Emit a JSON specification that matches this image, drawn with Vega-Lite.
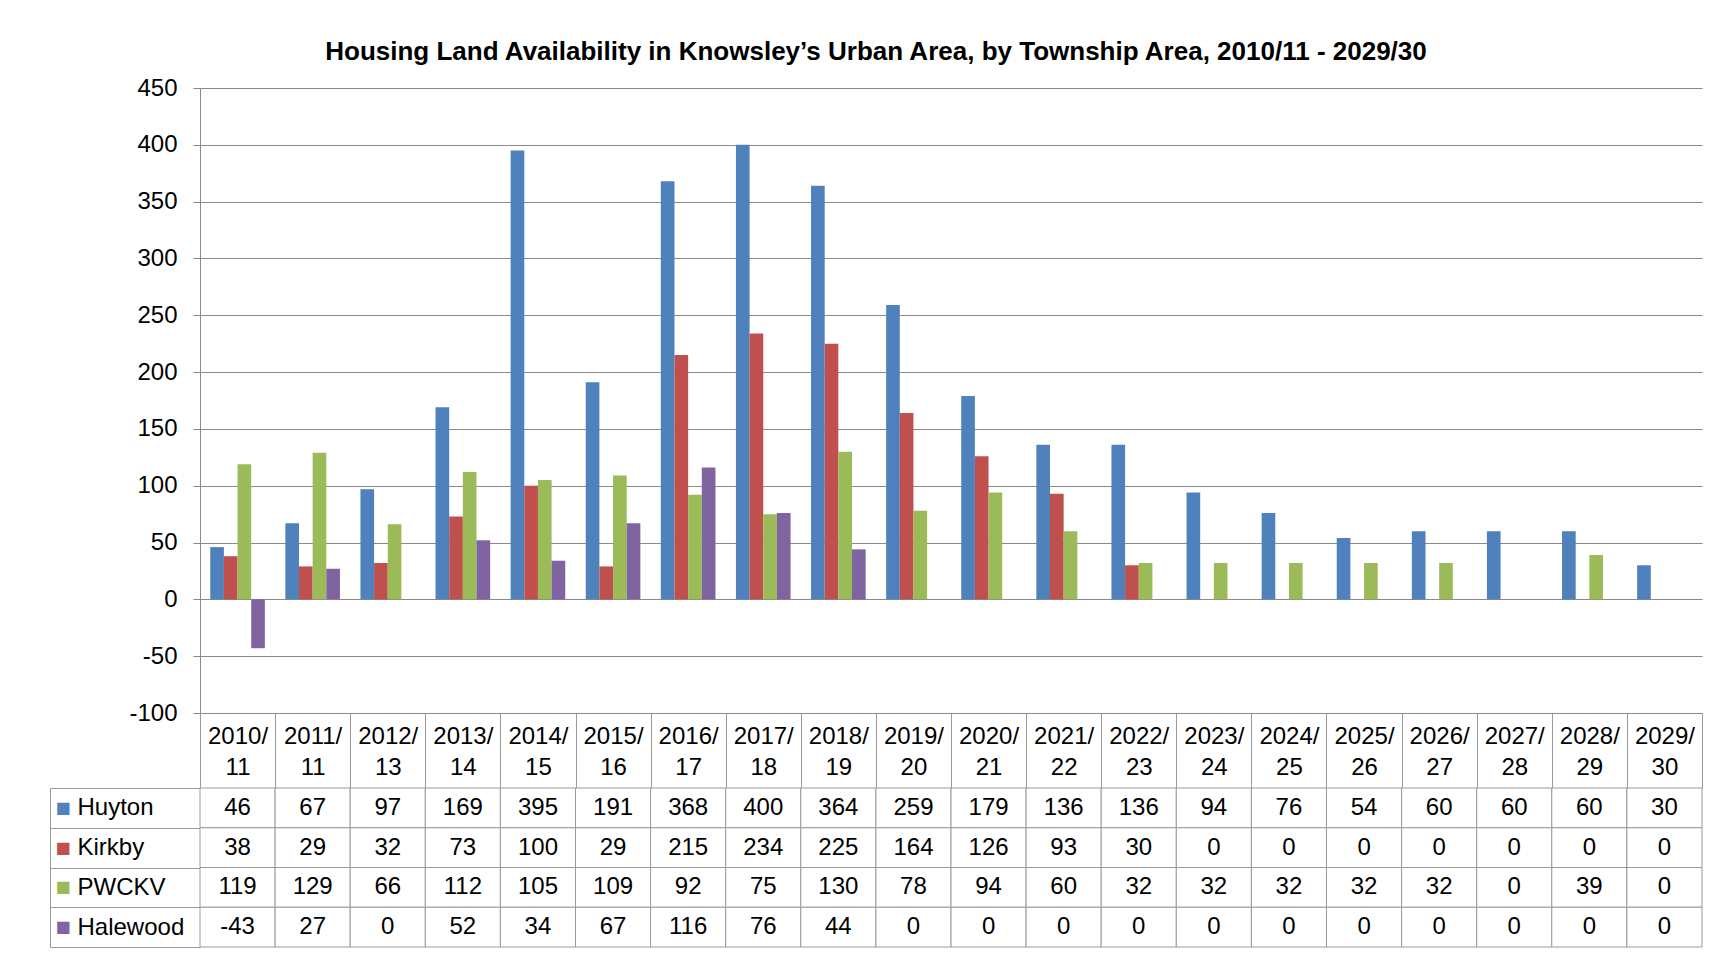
{
  "$schema": "https://vega.github.io/schema/vega-lite/v6.json",
  "padding": {"left": 49, "top": 39, "right": 0, "bottom": 0},
  "background": "white",
  "title": {"text": "Housing Land Availability in Knowsley’s Urban Area, by Township Area, 2010/11 - 2029/30", "fontSize": 26, "font": "Liberation Sans", "fontWeight": "bold", "color": "black", "anchor": "middle", "offset": 11},
  "datasets": {
    "d": [
      {"year": "2010/11", "series": "Huyton", "value": 46},
      {"year": "2011/11", "series": "Huyton", "value": 67},
      {"year": "2012/13", "series": "Huyton", "value": 97},
      {"year": "2013/14", "series": "Huyton", "value": 169},
      {"year": "2014/15", "series": "Huyton", "value": 395},
      {"year": "2015/16", "series": "Huyton", "value": 191},
      {"year": "2016/17", "series": "Huyton", "value": 368},
      {"year": "2017/18", "series": "Huyton", "value": 400},
      {"year": "2018/19", "series": "Huyton", "value": 364},
      {"year": "2019/20", "series": "Huyton", "value": 259},
      {"year": "2020/21", "series": "Huyton", "value": 179},
      {"year": "2021/22", "series": "Huyton", "value": 136},
      {"year": "2022/23", "series": "Huyton", "value": 136},
      {"year": "2023/24", "series": "Huyton", "value": 94},
      {"year": "2024/25", "series": "Huyton", "value": 76},
      {"year": "2025/26", "series": "Huyton", "value": 54},
      {"year": "2026/27", "series": "Huyton", "value": 60},
      {"year": "2027/28", "series": "Huyton", "value": 60},
      {"year": "2028/29", "series": "Huyton", "value": 60},
      {"year": "2029/30", "series": "Huyton", "value": 30},
      {"year": "2010/11", "series": "Kirkby", "value": 38},
      {"year": "2011/11", "series": "Kirkby", "value": 29},
      {"year": "2012/13", "series": "Kirkby", "value": 32},
      {"year": "2013/14", "series": "Kirkby", "value": 73},
      {"year": "2014/15", "series": "Kirkby", "value": 100},
      {"year": "2015/16", "series": "Kirkby", "value": 29},
      {"year": "2016/17", "series": "Kirkby", "value": 215},
      {"year": "2017/18", "series": "Kirkby", "value": 234},
      {"year": "2018/19", "series": "Kirkby", "value": 225},
      {"year": "2019/20", "series": "Kirkby", "value": 164},
      {"year": "2020/21", "series": "Kirkby", "value": 126},
      {"year": "2021/22", "series": "Kirkby", "value": 93},
      {"year": "2022/23", "series": "Kirkby", "value": 30},
      {"year": "2023/24", "series": "Kirkby", "value": 0},
      {"year": "2024/25", "series": "Kirkby", "value": 0},
      {"year": "2025/26", "series": "Kirkby", "value": 0},
      {"year": "2026/27", "series": "Kirkby", "value": 0},
      {"year": "2027/28", "series": "Kirkby", "value": 0},
      {"year": "2028/29", "series": "Kirkby", "value": 0},
      {"year": "2029/30", "series": "Kirkby", "value": 0},
      {"year": "2010/11", "series": "PWCKV", "value": 119},
      {"year": "2011/11", "series": "PWCKV", "value": 129},
      {"year": "2012/13", "series": "PWCKV", "value": 66},
      {"year": "2013/14", "series": "PWCKV", "value": 112},
      {"year": "2014/15", "series": "PWCKV", "value": 105},
      {"year": "2015/16", "series": "PWCKV", "value": 109},
      {"year": "2016/17", "series": "PWCKV", "value": 92},
      {"year": "2017/18", "series": "PWCKV", "value": 75},
      {"year": "2018/19", "series": "PWCKV", "value": 130},
      {"year": "2019/20", "series": "PWCKV", "value": 78},
      {"year": "2020/21", "series": "PWCKV", "value": 94},
      {"year": "2021/22", "series": "PWCKV", "value": 60},
      {"year": "2022/23", "series": "PWCKV", "value": 32},
      {"year": "2023/24", "series": "PWCKV", "value": 32},
      {"year": "2024/25", "series": "PWCKV", "value": 32},
      {"year": "2025/26", "series": "PWCKV", "value": 32},
      {"year": "2026/27", "series": "PWCKV", "value": 32},
      {"year": "2027/28", "series": "PWCKV", "value": 0},
      {"year": "2028/29", "series": "PWCKV", "value": 39},
      {"year": "2029/30", "series": "PWCKV", "value": 0},
      {"year": "2010/11", "series": "Halewood", "value": -43},
      {"year": "2011/11", "series": "Halewood", "value": 27},
      {"year": "2012/13", "series": "Halewood", "value": 0},
      {"year": "2013/14", "series": "Halewood", "value": 52},
      {"year": "2014/15", "series": "Halewood", "value": 34},
      {"year": "2015/16", "series": "Halewood", "value": 67},
      {"year": "2016/17", "series": "Halewood", "value": 116},
      {"year": "2017/18", "series": "Halewood", "value": 76},
      {"year": "2018/19", "series": "Halewood", "value": 44},
      {"year": "2019/20", "series": "Halewood", "value": 0},
      {"year": "2020/21", "series": "Halewood", "value": 0},
      {"year": "2021/22", "series": "Halewood", "value": 0},
      {"year": "2022/23", "series": "Halewood", "value": 0},
      {"year": "2023/24", "series": "Halewood", "value": 0},
      {"year": "2024/25", "series": "Halewood", "value": 0},
      {"year": "2025/26", "series": "Halewood", "value": 0},
      {"year": "2026/27", "series": "Halewood", "value": 0},
      {"year": "2027/28", "series": "Halewood", "value": 0},
      {"year": "2028/29", "series": "Halewood", "value": 0},
      {"year": "2029/30", "series": "Halewood", "value": 0}
    ]
  },
  "bounds": "flush",
  "spacing": 75,
  "vconcat": [
    {
      "width": 1502,
      "height": 625,
      "data": {"name": "d"},
      "mark": {"type": "bar"},
      "encoding": {
        "x": {"field": "year", "type": "nominal", "sort": null, "scale": {"paddingInner": 0.2727, "paddingOuter": 0.1364}, "axis": null},
        "xOffset": {"field": "series", "type": "nominal", "sort": ["Huyton", "Kirkby", "PWCKV", "Halewood"], "scale": {"paddingInner": 0, "paddingOuter": 0}},
        "y": {
          "field": "value", "type": "quantitative",
          "scale": {"domain": [-100, 450], "nice": false, "zero": false},
          "axis": {
            "title": null,
            "values": [-100, -50, 0, 50, 100, 150, 200, 250, 300, 350, 400, 450],
            "labelExpr": "'' + datum.value",
            "grid": true, "gridColor": "#8a8a8a", "gridWidth": 1,
            "domain": true, "domainColor": "#8a8a8a",
            "ticks": true, "tickSize": 7, "tickColor": "#8a8a8a",
            "labelPadding": 16, "labelFontSize": 24, "labelColor": "black", "labelFont": "Liberation Sans"
          }
        },
        "color": {
          "field": "series", "type": "nominal",
          "scale": {"domain": ["Huyton", "Kirkby", "PWCKV", "Halewood"], "range": ["#4F81BD", "#C0504D", "#9BBB59", "#8064A2"]},
          "legend": null
        }
      }
    },
    {
      "width": 1502,
      "height": 159,
      "data": {"name": "d"},
      "layer": [
        {
          "mark": {"type": "rect", "fill": "white", "stroke": "#9a9a9a", "strokeWidth": 1},
          "encoding": {
            "x": {"field": "year", "type": "nominal", "sort": null, "scale": {"paddingInner": 0, "paddingOuter": 0}, "axis": null},
            "y": {
              "field": "series", "type": "nominal", "sort": ["Huyton", "Kirkby", "PWCKV", "Halewood"],
              "scale": {"paddingInner": 0, "paddingOuter": 0},
              "axis": {
                "orient": "left", "offset": 150, "title": null,
                "domain": true, "domainColor": "#9a9a9a",
                "ticks": false, "tickSize": 0,
                "labelExpr": "'■'", "labelFont": "DejaVu Sans", "labelFontSize": 16,
                "labelAlign": "left", "labelPadding": -5,
                "labelColor": {"condition": [
                  {"test": "datum.value === 'Huyton'", "value": "#4F81BD"},
                  {"test": "datum.value === 'Kirkby'", "value": "#C0504D"},
                  {"test": "datum.value === 'PWCKV'", "value": "#9BBB59"}
                ], "value": "#8064A2"}
              }
            }
          }
        },
        {
          "mark": {"type": "text", "fontSize": 24, "font": "Liberation Sans", "color": "black"},
          "encoding": {
            "x": {
              "field": "year", "type": "nominal", "sort": null,
              "axis": {
                "orient": "top", "title": null, "domain": false,
                "tickBand": "extent", "ticks": true, "tickSize": 75, "tickColor": "#9a9a9a",
                "labelExpr": "[slice(datum.label, 0, 5), slice(datum.label, 5)]",
                "labelAngle": 0, "labelBaseline": "middle", "labelLineHeight": 31,
                "labelPadding": -23.5, "labelFontSize": 24, "labelColor": "black", "labelFont": "Liberation Sans",
                "labelOverlap": false
              }
            },
            "y": {
              "field": "series", "type": "nominal", "sort": ["Huyton", "Kirkby", "PWCKV", "Halewood"],
              "axis": {
                "orient": "left", "title": null, "domain": false,
                "tickBand": "extent", "ticks": true, "tickSize": 150, "tickColor": "#9a9a9a",
                "labelAlign": "left", "labelPadding": -27, "labelFontSize": 24, "labelColor": "black", "labelFont": "Liberation Sans"
              }
            },
            "text": {"field": "value", "type": "nominal"}
          }
        }
      ],
      "resolve": {"axis": {"x": "independent", "y": "independent"}}
    }
  ],
  "config": {"view": {"stroke": null}, "font": "Liberation Sans"}
}
